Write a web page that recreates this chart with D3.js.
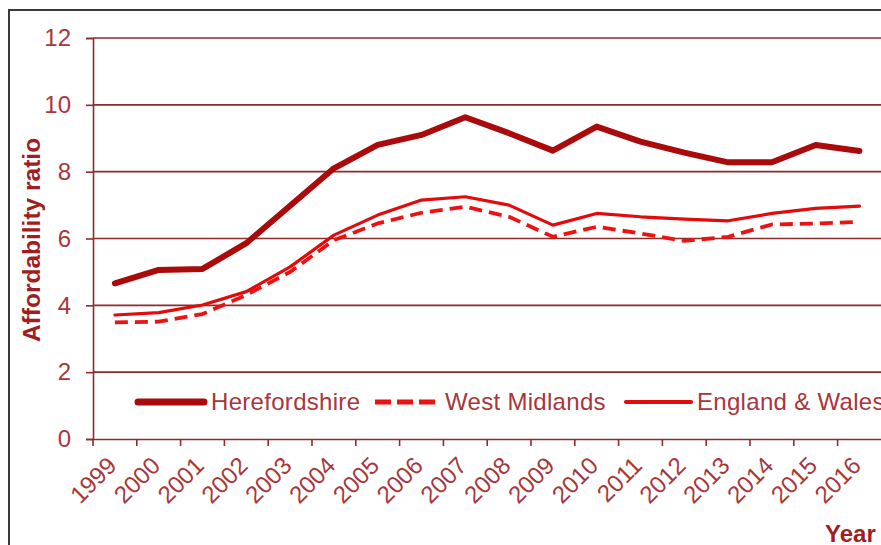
<!DOCTYPE html>
<html><head><meta charset="utf-8">
<script src="https://cdn.jsdelivr.net/npm/d3@7"></script>
<style>body{margin:0;background:#fff;}svg{display:block;font-family:"Liberation Sans",Arial,sans-serif;}</style>
</head><body>
<svg id="c" width="881" height="545"></svg>
<script>
const years = ["1999","2000","2001","2002","2003","2004","2005","2006","2007","2008","2009","2010","2011","2012","2013","2014","2015","2016"];
const herefordshire = [4.66,5.06,5.09,5.86,6.98,8.10,8.80,9.10,9.63,9.15,8.63,9.35,8.90,8.57,8.28,8.28,8.80,8.62];
const westMidlands = [3.49,3.51,3.74,4.31,5.00,5.95,6.45,6.77,6.95,6.65,6.05,6.35,6.15,5.93,6.05,6.42,6.45,6.50];
const englandWales = [3.71,3.78,4.01,4.41,5.15,6.10,6.70,7.15,7.25,7.00,6.40,6.75,6.65,6.58,6.53,6.75,6.90,6.97];
const yTicks = [0,2,4,6,8,10,12];
const seriesNames = ["Herefordshire","West Midlands","England & Wales"];

const svg = d3.select("#c");
const axisCol = "#8E2B2B", labelCol = "#A8363A";
// frame
svg.append("rect").attr("x",9).attr("y",10).attr("width",900).attr("height",560)
  .attr("fill","none").attr("stroke","#3a3a3a").attr("stroke-width",2);

const x = d3.scaleBand().domain(years).range([93, 93+18*43.8]).padding(0);
const y = d3.scaleLinear().domain([0,12]).range([439,38]);

// gridlines
svg.append("g").selectAll("line").data(yTicks.filter(d=>d>0)).join("line")
  .attr("x1",93).attr("x2",881).attr("y1",d=>y(d)).attr("y2",d=>y(d))
  .attr("stroke",axisCol).attr("stroke-width",1.6);

// y axis
const ya = svg.append("g").attr("transform","translate(93,0)")
  .call(d3.axisLeft(y).tickValues(yTicks).tickSize(7).tickPadding(15).tickFormat(d3.format("d")));
ya.select(".domain").attr("stroke",axisCol).attr("stroke-width",1.6);
ya.selectAll(".tick line").attr("stroke",axisCol).attr("stroke-width",1.6);
ya.selectAll("text").attr("fill",labelCol).attr("font-size",24).attr("font-family","Liberation Sans, Arial, sans-serif");

// x axis
const xa = svg.append("g").attr("transform","translate(0,439)")
  .call(d3.axisBottom(x).tickSize(0).tickFormat(""));
xa.select(".domain").attr("stroke",axisCol).attr("stroke-width",1.6);
xa.selectAll(".tick line").remove();
// ticks at band boundaries
svg.append("g").selectAll("line").data(years).join("line")
  .attr("x1",d=>x(d)).attr("x2",d=>x(d)).attr("y1",439).attr("y2",446)
  .attr("stroke",axisCol).attr("stroke-width",1.6);
svg.append("g").selectAll("text").data(years).join("text")
  .attr("transform",d=>`translate(${x(d)+x.bandwidth()/2+3},467) rotate(-45)`)
  .attr("text-anchor","end").attr("font-size",24).attr("fill",labelCol).text(d=>d);

// axis titles
svg.append("text").attr("transform","translate(40,240) rotate(-90)").attr("text-anchor","middle")
  .attr("font-size",24.5).attr("font-weight","bold").attr("fill","#A01E22").text("Affordability ratio");
svg.append("text").attr("x",825).attr("y",542).attr("font-size",24).attr("font-weight","bold")
  .attr("fill","#A01E22").text("Year");

// lines
const line = d3.line().x((d,i)=>x(years[i])+x.bandwidth()/2).y(d=>y(d));
const styles = [
  {data:herefordshire, color:"#AA0A0A", w:6, dash:null},
  {data:westMidlands, color:"#EE1111", w:3.8, dash:"13,7"},
  {data:englandWales, color:"#E20A0A", w:3.2, dash:null}
];
// draw order: E&W, WM, Herefordshire
[2,1,0].forEach(k=>{
  const s = styles[k];
  svg.append("path").datum(s.data).attr("d",line).attr("fill","none")
    .attr("stroke",s.color).attr("stroke-width",s.w).attr("stroke-linejoin","round")
    .attr("stroke-linecap", s.dash? "butt":"round")
    .attr("stroke-dasharray",s.dash);
});

// legend
const leg = [{x1:138,x2:204,tx:211},{x1:375,x2:437,tx:445},{x1:626,x2:691,tx:697}];
leg.forEach((l,k)=>{
  const s = styles[k];
  svg.append("line").attr("x1",l.x1).attr("x2",l.x2).attr("y1",402).attr("y2",402)
    .attr("stroke",s.color).attr("stroke-width",s.w+1).attr("stroke-dasharray",s.dash?"16,6":null)
    .attr("stroke-linecap",s.dash?"butt":"round");
  svg.append("text").attr("x",l.tx).attr("y",410).attr("font-size",24).attr("letter-spacing",0.3).attr("fill",labelCol)
    .text(seriesNames[k]);
});
</script>
</body></html>
